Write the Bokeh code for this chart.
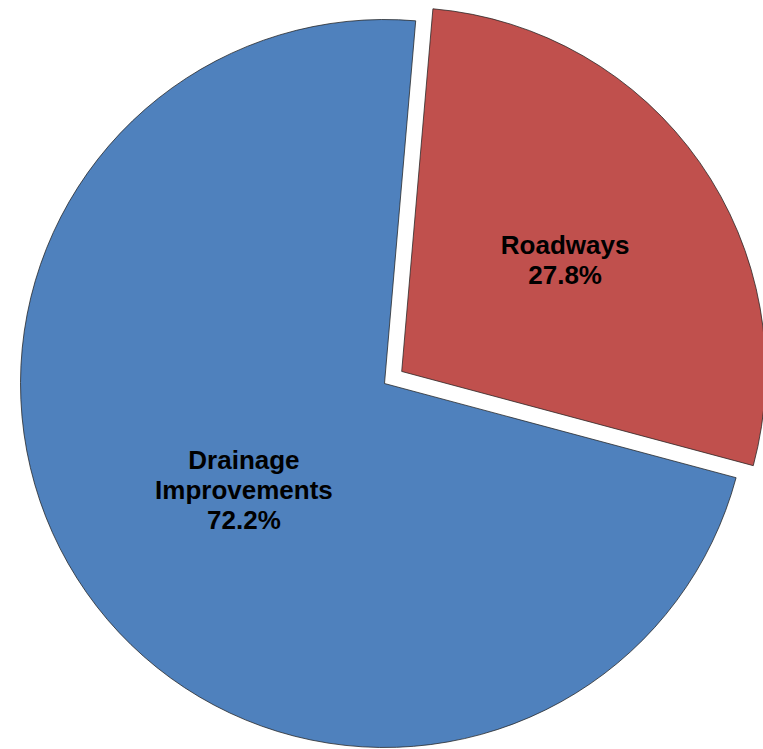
import math
from bokeh.plotting import figure
from bokeh.models import Range1d, ColumnDataSource
from bokeh.core.properties import value
from bokeh.embed import file_html
from bokeh.resources import INLINE

categories = ["Drainage Improvements", "Roadways"]
labels = ["Drainage\nImprovements\n72.2%", "Roadways\n27.8%"]
shares = [72.2, 27.8]
colors = ["#4F81BD", "#C0504D"]
explode = [0, 21]
label_frac = [0.485, 0.545]
label_nudge = [(4, -5), (1, -2)]

W, H = 763, 749
cx, cy, R = 384, -383, 364
first_angle = 105  # degrees clockwise from 12 o'clock

p = figure(width=W, height=H, output_backend="svg", toolbar_location=None,
           x_range=Range1d(0, W), y_range=Range1d(-H, 0),
           min_border=0, outline_line_color=None,
           x_axis_location=None, y_axis_location=None)
p.grid.visible = False
p.background_fill_color = "white"
p.border_fill_color = "white"

total = sum(shares)
xs, ys, starts, ends, lx, ly = [], [], [], [], [], []
a = math.radians(90 - first_angle)
for s, e, f, (nx, ny) in zip(shares, explode, label_frac, label_nudge):
    sweep = 2 * math.pi * s / total
    end = a
    start = a - sweep
    mid = (start + end) / 2
    x0 = cx + e * math.cos(mid)
    y0 = cy + e * math.sin(mid)
    xs.append(x0); ys.append(y0)
    starts.append(start); ends.append(end)
    lx.append(x0 + f * R * math.cos(mid) + nx)
    ly.append(y0 + f * R * math.sin(mid) + ny)
    a = start

src = ColumnDataSource(dict(x=xs, y=ys, start=starts, end=ends, color=colors,
                            lx=lx, ly=ly, label=labels, cat=categories))
p.wedge(x="x", y="y", radius=R, start_angle="start", end_angle="end",
        direction="anticlock", fill_color="color", line_color="#222222",
        line_width=0.75, source=src)
p.text(x="lx", y="ly", text="label", source=src, text_align="center",
       text_baseline="middle", text_font=value("Liberation Sans"),
       text_font_style="bold", text_font_size="26px", text_color="black",
       text_line_height=1.0)

open("out.html", "w").write(file_html(p, INLINE))
